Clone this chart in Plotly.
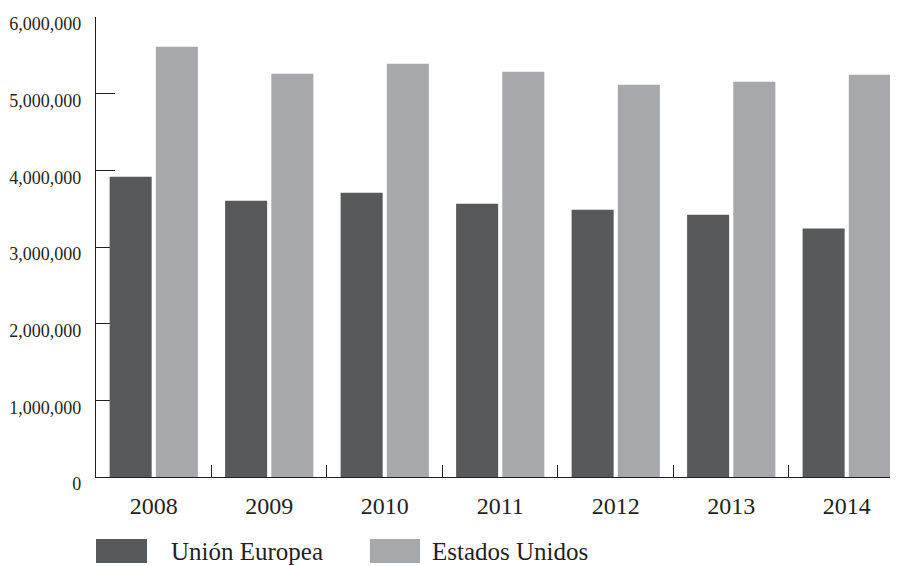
import plotly.graph_objects as go

years = ["2008", "2009", "2010", "2011", "2012", "2013", "2014"]
union_europea = [3917000, 3604000, 3708000, 3565000, 3486000, 3421000, 3240000]
estados_unidos = [5612000, 5260000, 5390000, 5286000, 5117000, 5156000, 5247000]
series_names = ["Unión Europea", "Estados Unidos"]
y_ticks = [0, 1000000, 2000000, 3000000, 4000000, 5000000, 6000000]
y_tick_labels = ["0", "1,000,000", "2,000,000", "3,000,000", "4,000,000", "5,000,000", "6,000,000"]

DARK = "#58595b"
LIGHT = "#a7a8ab"
INK = "#231f20"
FONT = "Liberation Serif, DejaVu Serif, serif"

fig = go.Figure()
fig.add_trace(go.Bar(x=years, y=union_europea, name=series_names[0],
                     marker=dict(color=DARK, line=dict(width=0)), showlegend=False))
fig.add_trace(go.Bar(x=years, y=estados_unidos, name=series_names[1],
                     marker=dict(color=LIGHT, line=dict(width=0)), showlegend=False))

# custom legend (large swatches)
legend_items = [(0.0, 0.0636, 0.091, DARK, series_names[0]),
                (0.3416, 0.404, 0.4165, LIGHT, series_names[1])]
shapes = []
annotations = []
for x0, x1, tx, col, name in legend_items:
    shapes.append(dict(type="rect", xref="paper", yref="paper", x0=x0, x1=x1,
                       y0=-0.187, y1=-0.1348, fillcolor=col, line=dict(width=0), layer="above"))
    annotations.append(dict(xref="paper", yref="paper", x=tx, y=-0.161, text=name,
                            showarrow=False, xanchor="left", yanchor="middle",
                            font=dict(family=FONT, size=25, color=INK)))

# the page body adds an 8px offset, so the figure is 8px smaller in each direction
fig.update_layout(
    width=890, height=558,
    margin=dict(l=88, r=0, t=9, b=89),
    paper_bgcolor="white", plot_bgcolor="white",
    barmode="group", bargap=0.2, bargroupgap=0.09,
    shapes=shapes, annotations=annotations,
    font=dict(family=FONT, color=INK),
    xaxis=dict(range=[-0.5, 6.444], showgrid=False, zeroline=False, automargin=False,
               showline=True, linecolor=INK, linewidth=1.3,
               ticks="inside", tickson="boundaries", ticklen=12, tickwidth=1.3, tickcolor=INK,
               tickfont=dict(family=FONT, size=24, color=INK), ticklabelstandoff=7,
               layer="below traces"),
    yaxis=dict(range=[0, 6000000], showgrid=False, zeroline=False, automargin=False,
               showline=True, linecolor=INK, linewidth=1.3,
               tickmode="array", tickvals=y_ticks, ticktext=y_tick_labels,
               ticks="inside", ticklen=19, tickwidth=1.3, tickcolor=INK,
               tickfont=dict(family=FONT, size=18, color=INK),
               ticklabelstandoff=10, ticklabelshift=7,
               layer="below traces"),
)

fig.write_html("out.html")
